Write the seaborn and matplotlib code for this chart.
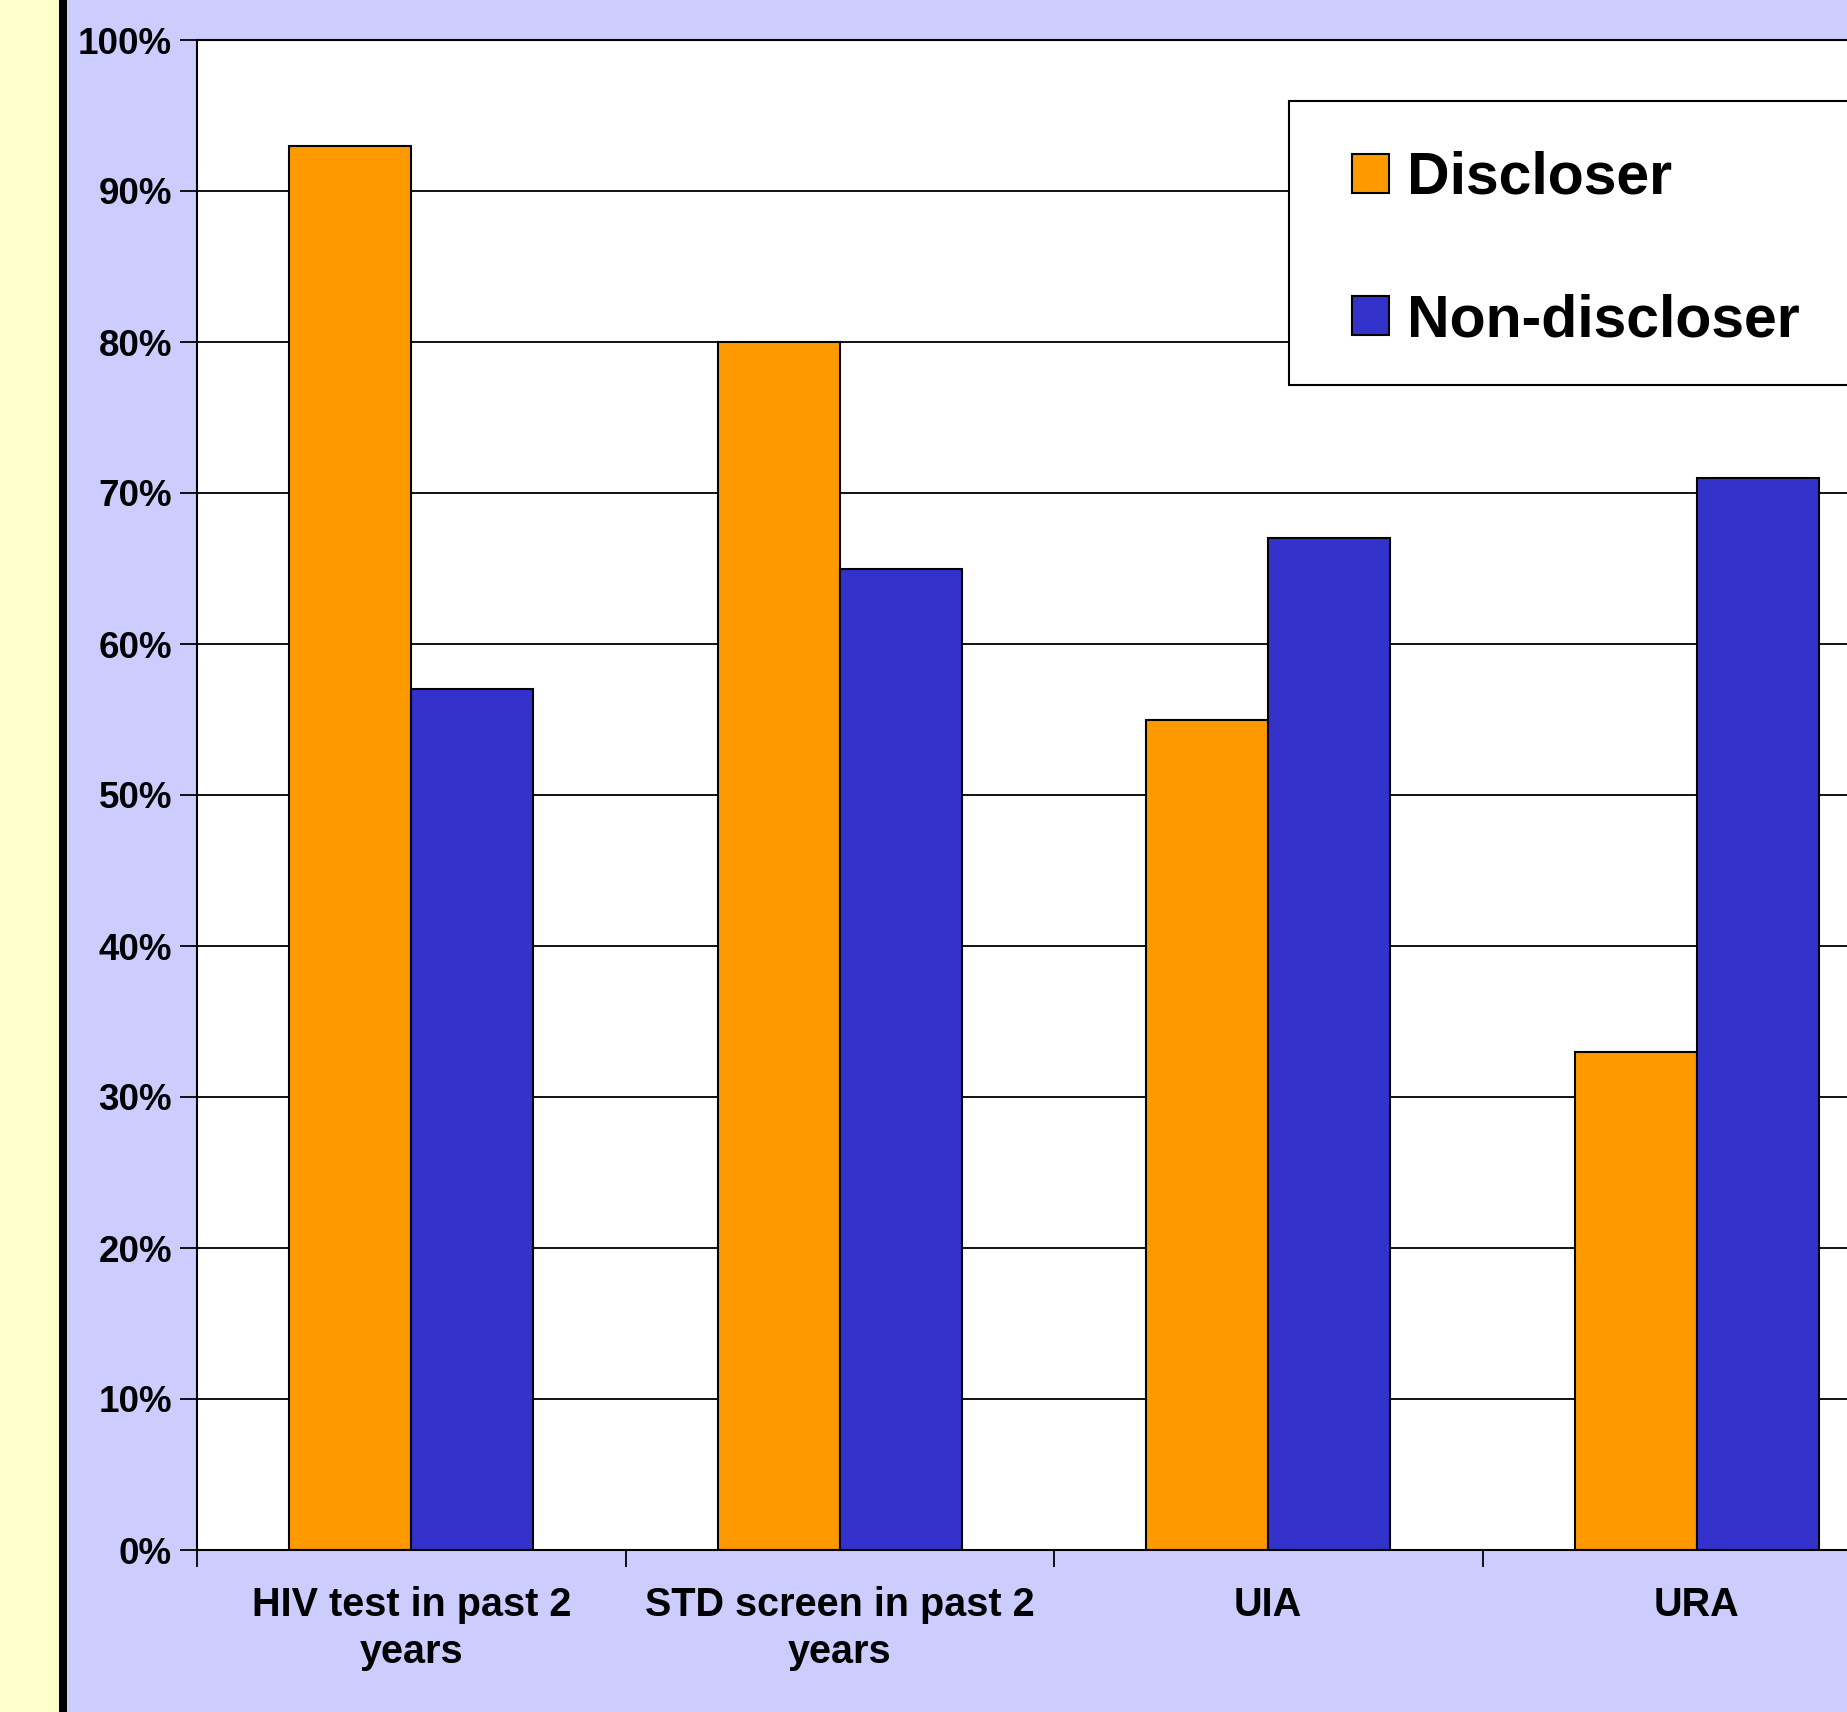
import matplotlib
matplotlib.use("Agg")
import matplotlib.pyplot as plt
import matplotlib.patches as mpatches
import matplotlib.ticker as mticker
import numpy as np
import pandas as pd
import seaborn as sns

# data
categories = ["HIV test in past 2\nyears", "STD screen in past 2\nyears", "UIA", "URA"]
groups = ["Discloser", "Non-discloser"]
discloser = [93, 80, 55, 33]
non_discloser = [57, 65, 67, 71]
y_ticks = list(range(0, 101, 10))
colors = ["#FF9900", "#3333CC"]

df = pd.DataFrame({
    "category": categories * 2,
    "group": [groups[0]] * len(categories) + [groups[1]] * len(categories),
    "pct": discloser + non_discloser,
})

sns.set_theme(style="white")
plt.rcParams["font.family"] = ["Liberation Sans", "DejaVu Sans"]
plt.rcParams["font.weight"] = "bold"
plt.rcParams["text.color"] = "black"

W, H = 1847, 1712
fig = plt.figure(figsize=(W / 100, H / 100), dpi=100)
fig.patch.set_facecolor("#CCCCFF")

# yellow strip and black rule on the left
fig.patches.append(mpatches.Rectangle((0, 0), 59 / W, 1, transform=fig.transFigure,
                                      facecolor="#FFFFCC", edgecolor="none", zorder=0))
fig.patches.append(mpatches.Rectangle((59 / W, 0), 8 / W, 1, transform=fig.transFigure,
                                      facecolor="black", edgecolor="none", zorder=0))

# plot area runs past the right edge of the picture
ax = fig.add_axes([197 / W, (H - 1550) / H, 1714 / W, 1510 / H])
ax.set_facecolor("white")

sns.barplot(data=df, x="category", y="pct", hue="group", palette=colors, saturation=1,
            width=0.57, gap=0, edgecolor="black", linewidth=1.5, ax=ax)

ax.set_xlim(-0.5, len(categories) - 0.5)
ax.set_ylim(0, 100)
ax.set_yticks(y_ticks)
ax.yaxis.set_major_formatter(mticker.FuncFormatter(lambda v, p: f"{v:.0f}%"))
ax.set_xticks(np.arange(len(categories) + 1) - 0.5, minor=True)
ax.tick_params(axis="x", which="major", length=0, pad=26, labelsize=28.5, labelcolor="black")
ax.tick_params(axis="x", which="minor", length=12, width=1.3, color="black", bottom=True)
ax.tick_params(axis="y", length=12, width=1.3, color="black", pad=6, labelsize=26.5,
               left=True, labelcolor="black")
for lbl in ax.get_xticklabels():
    lbl.set_linespacing(1.29)
    lbl.set_fontweight("bold")
for lbl in ax.get_yticklabels():
    lbl.set_fontweight("bold")

ax.set_axisbelow(True)
ax.yaxis.grid(True, color="black", linewidth=1.3)
ax.xaxis.grid(False)
for side in ["left", "bottom", "top"]:
    ax.spines[side].set_color("black")
    ax.spines[side].set_linewidth(1.5)
ax.spines["right"].set_visible(False)
ax.set_xlabel("")
ax.set_ylabel("")

# legend box
box = mpatches.Rectangle((1289 / W, (H - 385) / H), 700 / W, 284 / H,
                         transform=fig.transFigure, facecolor="white",
                         edgecolor="black", linewidth=1.5, zorder=4, clip_on=False)
ax.add_patch(box)
handles, labels = ax.get_legend_handles_labels()
leg = ax.legend(handles, labels, loc="upper left",
                bbox_to_anchor=(1352 / W, (H - 151) / H), bbox_transform=fig.transFigure,
                frameon=False, fontsize=42.5, handlelength=0.63, handleheight=0.63,
                handletextpad=0.3, labelspacing=1.48, borderpad=0, borderaxespad=0)
leg.set_zorder(5)
for t in leg.get_texts():
    t.set_fontweight("bold")
    t.set_color("black")
for h in leg.legend_handles:
    h.set_edgecolor("black")
    h.set_linewidth(1.5)

fig.savefig("out.png", dpi=100, facecolor=fig.get_facecolor())
